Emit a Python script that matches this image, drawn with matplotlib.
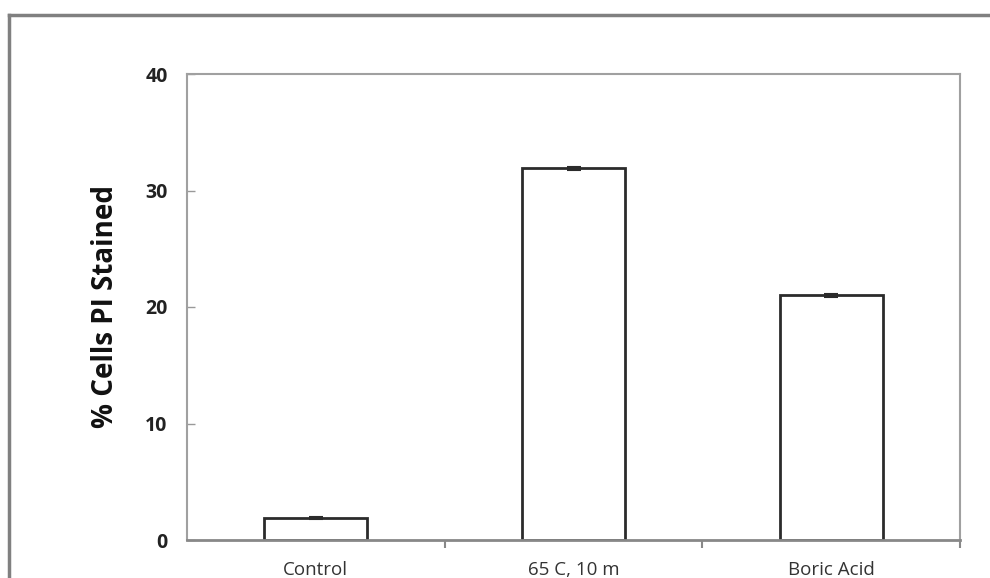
import matplotlib.pyplot as plt
from matplotlib.lines import Line2D

categories = ['Control', '65 C, 10 m', 'Boric Acid']
values = [1.9, 31.9, 21.0]
errors = [0.1, 0.1, 0.1]

plt.rcParams['font.family'] = ['Open Sans', 'DejaVu Sans']

fig = plt.figure(figsize=(9.9, 5.78), dpi=100)
ax = fig.add_axes([187 / 990, 38 / 578, 773 / 990, 466 / 578])

x = list(range(len(categories)))
ax.bar(x, values, width=0.4, color='white', edgecolor='#2b2b2b', linewidth=2, zorder=2)
ax.errorbar(x, values, yerr=errors, fmt='none', ecolor='#2b2b2b',
            elinewidth=1.2, capsize=5, capthick=1.5, zorder=3)

ax.set_xlim(-0.5, 2.5)
ax.set_ylim(0, 40)
ax.set_yticks([0, 10, 20, 30, 40])
ax.tick_params(axis='y', direction='in', length=6, width=1, color='#999999',
               pad=14, labelsize=14, labelcolor='#222222')
for lab in ax.get_yticklabels():
    lab.set_fontweight('bold')

ax.set_xticks([0.5, 1.5, 2.5])
ax.set_xticklabels([])
ax.set_xticks(x, minor=True)
ax.set_xticklabels(categories, minor=True, fontsize=13.5, color='#333333')
ax.tick_params(axis='x', which='major', direction='out', length=6, width=1.5,
               color='#888888')
ax.tick_params(axis='x', which='minor', length=0, pad=15)

ax.set_ylabel('% Cells PI Stained', fontsize=20, fontweight='bold', labelpad=18,
              color='#111111')

for side in ['top', 'right', 'left']:
    ax.spines[side].set_color('#a0a0a0')
    ax.spines[side].set_linewidth(1.5)
ax.spines['bottom'].set_color('#888888')
ax.spines['bottom'].set_linewidth(2)

# frame round the figure (left and top edges visible)
fx = 9 / 990
fy = 1 - 15 / 578
fig.add_artist(Line2D([fx, fx], [0, fy], transform=fig.transFigure,
                      color='#808080', linewidth=2.5))
fig.add_artist(Line2D([fx, 1], [fy, fy], transform=fig.transFigure,
                      color='#808080', linewidth=2.5))

fig.savefig('out.png', dpi=100)
